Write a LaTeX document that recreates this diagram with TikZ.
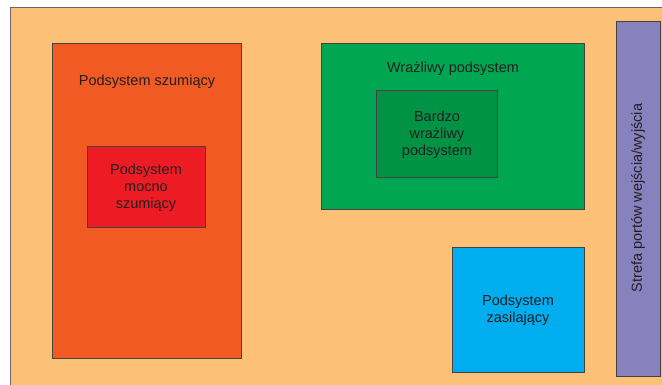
\documentclass[tikz,border=0pt]{standalone}
\usepackage{fontspec}
\setmainfont{Liberation Sans}
\definecolor{bgc}{HTML}{FCC176}
\definecolor{orc}{HTML}{F15A22}
\definecolor{rdc}{HTML}{ED1C24}
\definecolor{grc}{HTML}{00A651}
\definecolor{dgc}{HTML}{009245}
\definecolor{blc}{HTML}{00AEEF}
\definecolor{puc}{HTML}{8781BD}
\definecolor{txc}{HTML}{231F20}
\begin{document}
\begin{tikzpicture}[x=1pt,y=-1pt,
  blk/.style={draw=txc!85, line width=0.9pt},
  lbl/.style={text=txc, font=\fontsize{14.5}{17}\selectfont, align=center}]
\useasboundingbox (0,0) rectangle (662,385);
\fill[bgc] (10,8) rectangle (662,385);
\draw[gray!80!black, line width=1pt] (10,385) -- (10,8) -- (662,8);
\draw[blk, fill=orc] (52,43) rectangle (241,358);
\node[lbl] (szum) at (147,82) {Podsystem szumiący};
\draw[blk, fill=rdc] (87,146) rectangle (205,227);
\node[lbl] (mocno) at (146,188) {Podsystem\\mocno\\szumiący};
\draw[blk, fill=grc] (321,43) rectangle (584,209);
\node[lbl] (wraz) at (453,69) {Wrażliwy podsystem};
\draw[blk, fill=dgc] (376,90) rectangle (497,177);
\node[lbl] (bardzo) at (437,134.5) {Bardzo\\wrażliwy\\podsystem};
\draw[blk, fill=blc] (452,247) rectangle (584,372);
\node[lbl] (zasil) at (518,310.5) {Podsystem\\zasilający};
\draw[blk, fill=puc] (616,21) rectangle (660,376);
\node[lbl, rotate=90] (strefa) at (638,198) {Strefa portów wejścia/wyjścia};
\end{tikzpicture}
\end{document}
